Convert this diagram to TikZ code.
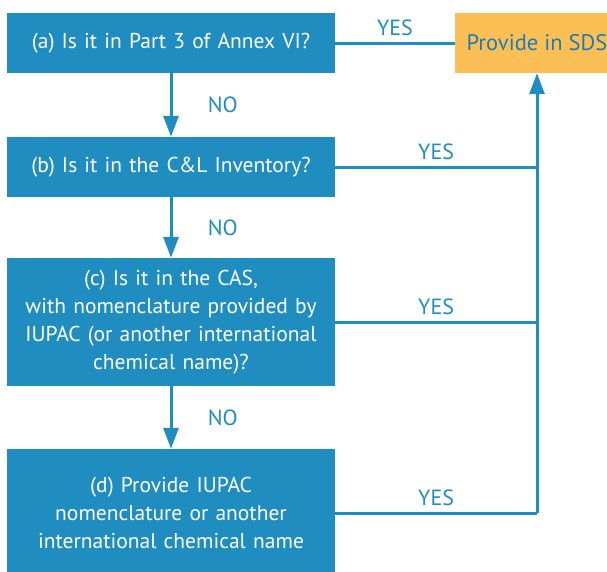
\documentclass[tikz,border=0pt]{standalone}
\usepackage{fontspec}
\setmainfont{PT Sans}
\usetikzlibrary{arrows.meta}

\definecolor{boxblue}{RGB}{31,141,192}
\definecolor{sdsorange}{RGB}{251,191,85}
\definecolor{sdstext}{RGB}{30,125,180}

\begin{document}
\begin{tikzpicture}[x=1pt,y=-1pt]
\tikzstyle{question} = [fill=boxblue, text=white, minimum width=328pt, inner sep=0pt,
    text width=320pt, align=center, font=\fontsize{21.5}{28}\selectfont]
\tikzstyle{answer} = [fill=sdsorange, text=sdstext, minimum width=164pt, minimum height=60pt,
    inner sep=0pt, font=\fontsize{22.5}{28}\selectfont]
\tikzstyle{flow} = [draw=boxblue, line width=3pt]
\tikzstyle{tip} = [-{Triangle[width=15pt,length=21pt]}]
\tikzstyle{yesno} = [text=boxblue, font=\fontsize{22}{24}\selectfont]
\useasboundingbox (0,0) rectangle (607,571);

\node[question, minimum height=60pt] (qa) at (171,43) {(a) Is it in Part 3 of Annex VI?};
\node[answer] (sds) at (537,43) {Provide in SDS};
\node[question, minimum height=60pt] (qb) at (171,167) {(b) Is it in the C\&L Inventory?};
\node[question, minimum height=128pt] (qc) at (171,322) {(c) Is it in the CAS,\\ with nomenclature provided by\\ IUPAC (or another international\\ chemical name)?};
\node[question, minimum height=128pt] (qd) at (171,513) {(d) Provide IUPAC\\ nomenclature or another\\ international chemical name};

% NO branches
\draw[flow, tip] (qa) -- node[yesno, right=32pt] {NO} (qb);
\draw[flow, tip] (qb) -- node[yesno, right=32pt] {NO} (qc);
\draw[flow, tip] (qc) -- node[yesno, right=32pt] {NO} (qd);

% YES branches
\draw[flow] (qa) -- node[yesno, above=2pt] {YES} (sds);
\draw[flow] (qb.east) -- node[yesno, above=2pt] {YES} (qb.east -| sds.south);
\draw[flow] (qc.east) -- node[yesno, above=2pt] {YES} (qc.east -| sds.south);
\draw[flow] (qd.east) -- node[yesno, above=2pt] {YES} (qd.east -| sds.south);
\draw[flow, tip] (qd.east -| sds.south) -- (sds.south);
\end{tikzpicture}
\end{document}
